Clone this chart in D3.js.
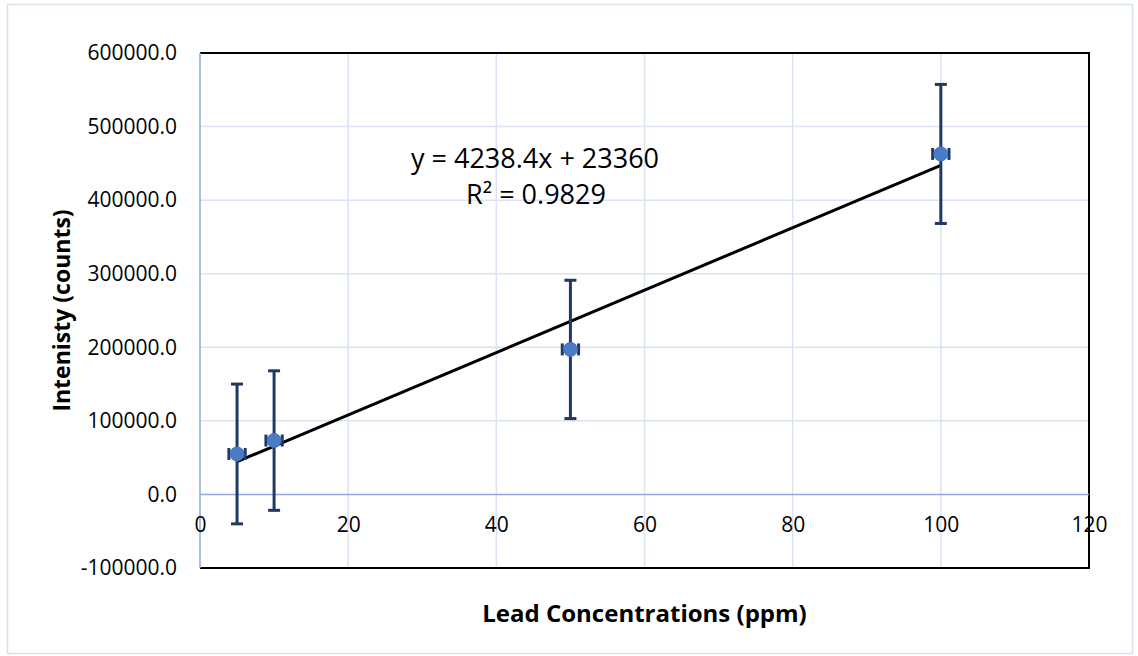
<!DOCTYPE html>
<html>
<head>
<meta charset="utf-8">
<script src="https://cdn.jsdelivr.net/npm/d3@7"></script>
<style>
  html, body { margin: 0; padding: 0; background: #fff; }
  svg { display: block; font-family: "Open Sans", sans-serif; }
</style>
</head>
<body>
<div id="chart"></div>
<script>
// Lead calibration: intensity vs concentration with error bars and linear fit.

const concentration = [5, 10, 50, 100];
const intensity = [55000, 73200, 197100, 462800];
const yError = [95000, 94800, 94000, 94500];
const xError = [1.1, 1.1, 1.1, 1.1];

const xTicks = [0, 20, 40, 60, 80, 100, 120];
const yTicks = [-100000, 0, 100000, 200000, 300000, 400000, 500000, 600000];

const fit = { slope: 4238.4, intercept: 23360, r2: 0.9829 };
const fitRange = [5, 100];

const W = 1138, H = 656;
const margin = { top: 53, right: 49, bottom: 88, left: 200 };

const svg = d3.select("#chart").append("svg")
  .attr("width", W).attr("height", H);

// outer chart frame
svg.append("rect")
  .attr("x", 7.5).attr("y", 4.5).attr("width", 1125).attr("height", 649)
  .attr("fill", "#fff").attr("stroke", "#d6e0ef").attr("stroke-width", 1.5);

const x = d3.scaleLinear().domain([0, 120]).range([margin.left, W - margin.right]);
const y = d3.scaleLinear().domain([-100000, 600000]).range([H - margin.bottom, margin.top]);

const data = concentration.map((c, i) => ({ c, v: intensity[i], ey: yError[i], ex: xError[i] }));

// plain hyphen for negatives, like the spreadsheet
const fmtY = d3.formatLocale({ decimal: ".", thousands: "", grouping: [3], currency: ["", ""], minus: "-" }).format(".1f");

// gridlines
const grid = svg.append("g");
grid.selectAll("line.vg").data(xTicks.filter(t => t > 0 && t < 120)).join("line")
  .attr("x1", d => x(d)).attr("x2", d => x(d))
  .attr("y1", y(600000)).attr("y2", y(-100000))
  .attr("stroke", "#d9e3f3").attr("stroke-width", 1.5);
grid.selectAll("line.hg").data(yTicks.filter(t => t !== 0 && t > -100000 && t < 600000)).join("line")
  .attr("x1", x(0)).attr("x2", x(120))
  .attr("y1", d => y(d)).attr("y2", d => y(d))
  .attr("stroke", "#d9e3f3").attr("stroke-width", 1.5);

// plot frame (top, right, bottom black)
svg.append("path")
  .attr("d", `M${x(0)},${y(600000)} H${x(120)} V${y(-100000)} H${x(0)}`)
  .attr("stroke", "#000").attr("stroke-width", 2).attr("fill", "none");

// axis lines through zero
svg.append("line")
  .attr("x1", x(0)).attr("x2", x(120)).attr("y1", y(0)).attr("y2", y(0))
  .attr("stroke", "#8eaadb").attr("stroke-width", 1.5);
svg.append("line")
  .attr("x1", x(0)).attr("x2", x(0)).attr("y1", y(600000)).attr("y2", y(-100000))
  .attr("stroke", "#8eaadb").attr("stroke-width", 1.5);

// y tick labels
const yAxis = svg.append("g").attr("transform", `translate(${x(0)},0)`)
  .call(d3.axisLeft(y).tickValues(yTicks).tickFormat(fmtY).tickSize(0).tickPadding(23));
yAxis.select(".domain").remove();
yAxis.selectAll("text").attr("font-size", 21).attr("font-family", "Open Sans, sans-serif").attr("fill", "#000");

// x tick labels, hung below the zero line
const xAxis = svg.append("g").attr("transform", `translate(0,${y(0)})`)
  .call(d3.axisBottom(x).tickValues(xTicks).tickSize(0).tickPadding(23));
xAxis.select(".domain").remove();
xAxis.selectAll("text").attr("font-size", 21).attr("font-family", "Open Sans, sans-serif").attr("fill", "#000");

// trendline
svg.append("line")
  .attr("x1", x(fitRange[0])).attr("y1", y(fit.slope * fitRange[0] + fit.intercept))
  .attr("x2", x(fitRange[1])).attr("y2", y(fit.slope * fitRange[1] + fit.intercept))
  .attr("stroke", "#000").attr("stroke-width", 3);

// error bars
const err = svg.append("g").attr("stroke", "#1f3864").attr("stroke-width", 3).attr("fill", "none");
const eb = err.selectAll("g").data(data).join("g");
eb.append("line")
  .attr("x1", d => x(d.c)).attr("x2", d => x(d.c))
  .attr("y1", d => y(d.v + d.ey)).attr("y2", d => y(d.v - d.ey));
eb.append("line")
  .attr("x1", d => x(d.c) - 6).attr("x2", d => x(d.c) + 6)
  .attr("y1", d => y(d.v + d.ey)).attr("y2", d => y(d.v + d.ey));
eb.append("line")
  .attr("x1", d => x(d.c) - 6).attr("x2", d => x(d.c) + 6)
  .attr("y1", d => y(d.v - d.ey)).attr("y2", d => y(d.v - d.ey));
// horizontal error (tiny)
eb.append("line")
  .attr("x1", d => x(d.c - d.ex)).attr("x2", d => x(d.c + d.ex))
  .attr("y1", d => y(d.v)).attr("y2", d => y(d.v));
eb.append("line")
  .attr("x1", d => x(d.c - d.ex)).attr("x2", d => x(d.c - d.ex))
  .attr("y1", d => y(d.v) - 6).attr("y2", d => y(d.v) + 6);
eb.append("line")
  .attr("x1", d => x(d.c + d.ex)).attr("x2", d => x(d.c + d.ex))
  .attr("y1", d => y(d.v) - 6).attr("y2", d => y(d.v) + 6);

// markers
svg.append("g").selectAll("circle").data(data).join("circle")
  .attr("cx", d => x(d.c)).attr("cy", d => y(d.v)).attr("r", 7)
  .attr("fill", "#4a7cc6").attr("stroke", "#4472c4").attr("stroke-width", 1);

// equation label
const eq = svg.append("g").attr("font-size", 27).attr("fill", "#000").attr("text-anchor", "middle");
eq.append("text").attr("x", 535).attr("y", 168)
  .text(`y = ${fit.slope}x + ${fit.intercept}`);
eq.append("text").attr("x", 536).attr("y", 204)
  .text(`R² = ${fit.r2}`);

// axis titles
svg.append("text")
  .attr("x", (x(0) + x(120)) / 2).attr("y", 622)
  .attr("text-anchor", "middle").attr("font-size", 24).attr("font-weight", "bold")
  .text("Lead Concentrations (ppm)");
svg.append("text")
  .attr("transform", `translate(70,${(y(600000) + y(-100000)) / 2}) rotate(-90)`)
  .attr("text-anchor", "middle").attr("font-size", 23).attr("font-weight", "bold")
  .text("Intenisty (counts)");
</script>
</body>
</html>
